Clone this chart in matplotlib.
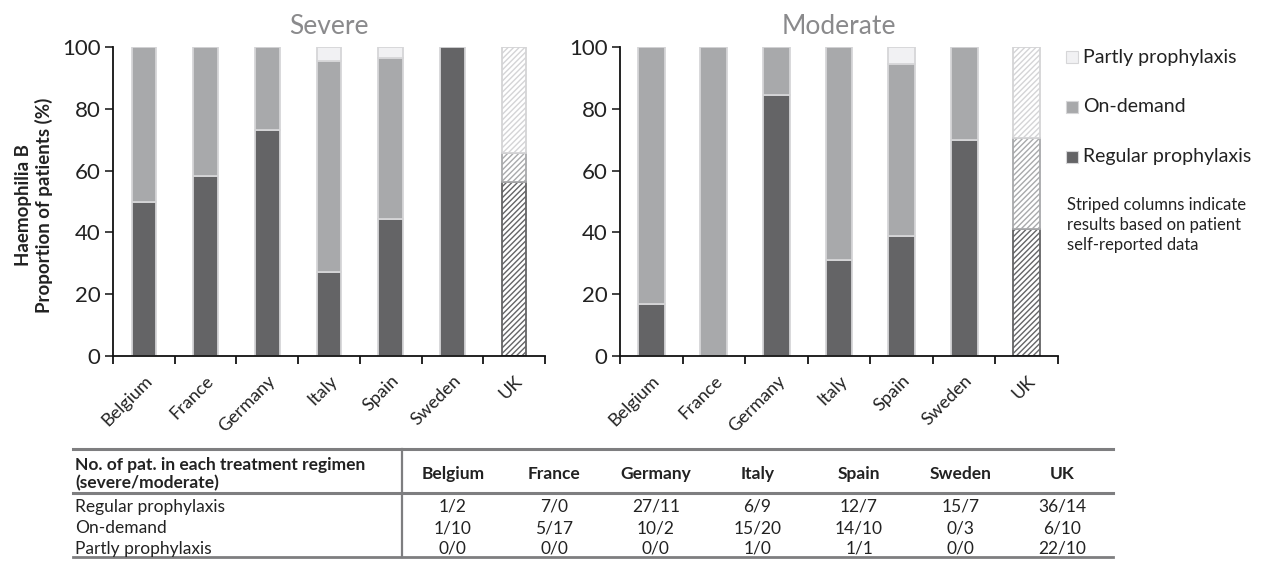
"""
Haemophilia B treatment regimens by country (severe / moderate),
stacked 100% bars with a count table underneath.
"""

import numpy as np
import matplotlib
matplotlib.use("Agg")
import matplotlib.pyplot as plt
from matplotlib.lines import Line2D
from matplotlib.patches import Rectangle

plt.rcParams['font.family'] = ['Lato', 'DejaVu Sans']

# Data (percent of patients)
COUNTRIES = ["Belgium", "France", "Germany", "Italy", "Spain", "Sweden", "UK"]

severe_regular = [50.0, 58.3, 73.0, 27.3, 44.4, 100.0, 56.3]
severe_ondemand = [50.0, 41.7, 27.0, 68.2, 51.9, 0.0, 9.4]
severe_partly = [0.0, 0.0, 0.0, 4.5, 3.7, 0.0, 34.3]

moderate_regular = [16.7, 0.0, 84.6, 31.0, 38.9, 70.0, 41.2]
moderate_ondemand = [83.3, 100.0, 15.4, 69.0, 55.5, 30.0, 29.4]
moderate_partly = [0.0, 0.0, 0.0, 0.0, 5.6, 0.0, 29.4]

# Table: patient counts (severe, moderate)
TABLE_ROWS = ["Regular prophylaxis", "On-demand", "Partly prophylaxis"]
count_regular = [(1, 2), (7, 0), (27, 11), (6, 9), (12, 7), (15, 7), (36, 14)]
count_ondemand = [(1, 10), (5, 17), (10, 2), (15, 20), (14, 10), (0, 3), (6, 10)]
count_partly = [(0, 0), (0, 0), (0, 0), (1, 0), (1, 1), (0, 0), (22, 10)]

SELF_REPORTED = ["UK"]

# Styles
C_REG = "#646466"
C_OND = "#a8a9ab"
C_PART = "#f1f1f3"
EDGE = "#d6d6d8"
TXT = "#222222"

W, H = 1261, 561


def px_axes(fig, x0, x1, y_top, y_bot):
    return fig.add_axes([x0 / W, 1 - y_bot / H, (x1 - x0) / W, (y_bot - y_top) / H])


def draw_panel(ax, regular, ondemand, partly, title, width):
    x = np.arange(len(COUNTRIES))
    layers = [(regular, C_REG), (ondemand, C_OND), (partly, C_PART)]
    bottom = np.zeros(len(COUNTRIES))
    for vals, col in layers:
        vals = np.array(vals)
        for i, c in enumerate(COUNTRIES):
            if vals[i] <= 0:
                continue
            if c in SELF_REPORTED:
                hatch_col = col if col != C_PART else "#d4d4d6"
                ax.bar(x[i], vals[i], width, bottom=bottom[i], color="white",
                       edgecolor=hatch_col, hatch="//////", linewidth=1.3)
            else:
                ax.bar(x[i], vals[i], width, bottom=bottom[i], color=col,
                       edgecolor=EDGE, linewidth=1.3)
        bottom += vals

    ax.set_xlim(-0.5, len(COUNTRIES) - 0.5)
    ax.set_ylim(0, 100)
    ax.set_yticks([0, 20, 40, 60, 80, 100])
    ax.tick_params(axis="y", labelsize=16, length=6, width=1.2, colors=TXT, pad=3)
    ax.set_xticks(x)
    ax.set_xticklabels(COUNTRIES, rotation=45, ha="right", rotation_mode="anchor",
                       fontsize=13, color=TXT)
    ax.tick_params(axis="x", length=0, pad=12)
    # category boundary ticks
    ax.set_xticks(np.arange(len(COUNTRIES) + 1) - 0.5, minor=True)
    ax.tick_params(axis="x", which="minor", length=6, width=1.2, direction="out")
    for s in ["top", "right"]:
        ax.spines[s].set_visible(False)
    for s in ["left", "bottom"]:
        ax.spines[s].set_linewidth(1.3)
        ax.spines[s].set_color("#111111")
    ax.set_title(title, fontsize=19, color="#8a8a8c", pad=9)


fig = plt.figure(figsize=(W / 100, H / 100), dpi=100)

ax1 = px_axes(fig, 113, 545, 47, 356)
draw_panel(ax1, severe_regular, severe_ondemand, severe_partly, "Severe", 0.4)

ax2 = px_axes(fig, 620, 1058, 47, 356)
draw_panel(ax2, moderate_regular, moderate_ondemand, moderate_partly, "Moderate", 0.43)

fig.text(34 / W, 1 - 205 / H, "Haemophilia B\nProportion of patients (%)",
         rotation=90, ha="center", va="center", fontsize=13.5, fontweight="bold",
         color=TXT, linespacing=1.25)

# Legend
legend_items = [("Partly prophylaxis", C_PART, 57), ("On-demand", C_OND, 107),
                ("Regular prophylaxis", C_REG, 157)]
for label, col, y in legend_items:
    fig.patches.append(Rectangle((1066 / W, 1 - (y + 6) / H), 12 / W, 12 / H,
                                 transform=fig.transFigure, facecolor=col,
                                 edgecolor=EDGE, linewidth=0.8))
    fig.text(1083 / W, 1 - y / H, label, ha="left", va="center", fontsize=14, color=TXT)

fig.text(1067 / W, 1 - 225 / H,
         "Striped columns indicate\nresults based on patient\nself-reported data",
         ha="left", va="center", fontsize=12, color=TXT, linespacing=1.3)

# Table
tx0, tx1, tdiv = 73, 1113, 402
col_w = (tx1 - tdiv) / len(COUNTRIES)
col_x = [tdiv + col_w * (i + 0.5) for i in range(len(COUNTRIES))]
line_col = "#7e7e80"


def hline(y, lw):
    fig.add_artist(Line2D([tx0 / W, tx1 / W], [1 - y / H, 1 - y / H],
                          color=line_col, linewidth=lw, transform=fig.transFigure))


hline(449, 2.2)
hline(493, 2.2)
hline(557, 2.0)
fig.add_artist(Line2D([tdiv / W, tdiv / W], [1 - 449 / H, 1 - 557 / H], color=line_col,
                      linewidth=1.6, transform=fig.transFigure))

fig.text(75 / W, 1 - 474 / H, "No. of pat. in each treatment regimen\n(severe/moderate)",
         ha="left", va="center", fontsize=12.5, fontweight="bold", color=TXT,
         linespacing=1.2)
for cx, c in zip(col_x, COUNTRIES):
    fig.text(cx / W, 1 - 474 / H, c, ha="center", va="center", fontsize=12.5,
             fontweight="bold", color=TXT)

row_y = [507, 528, 549]
for y, label, counts in zip(row_y, TABLE_ROWS, [count_regular, count_ondemand, count_partly]):
    fig.text(75 / W, 1 - y / H, label, ha="left", va="center", fontsize=12.5, color=TXT)
    for cx, (s, m) in zip(col_x, counts):
        fig.text(cx / W, 1 - y / H, f"{s}/{m}", ha="center", va="center",
                 fontsize=12.5, color=TXT)

plt.savefig("out.png", dpi=100)
plt.close()
